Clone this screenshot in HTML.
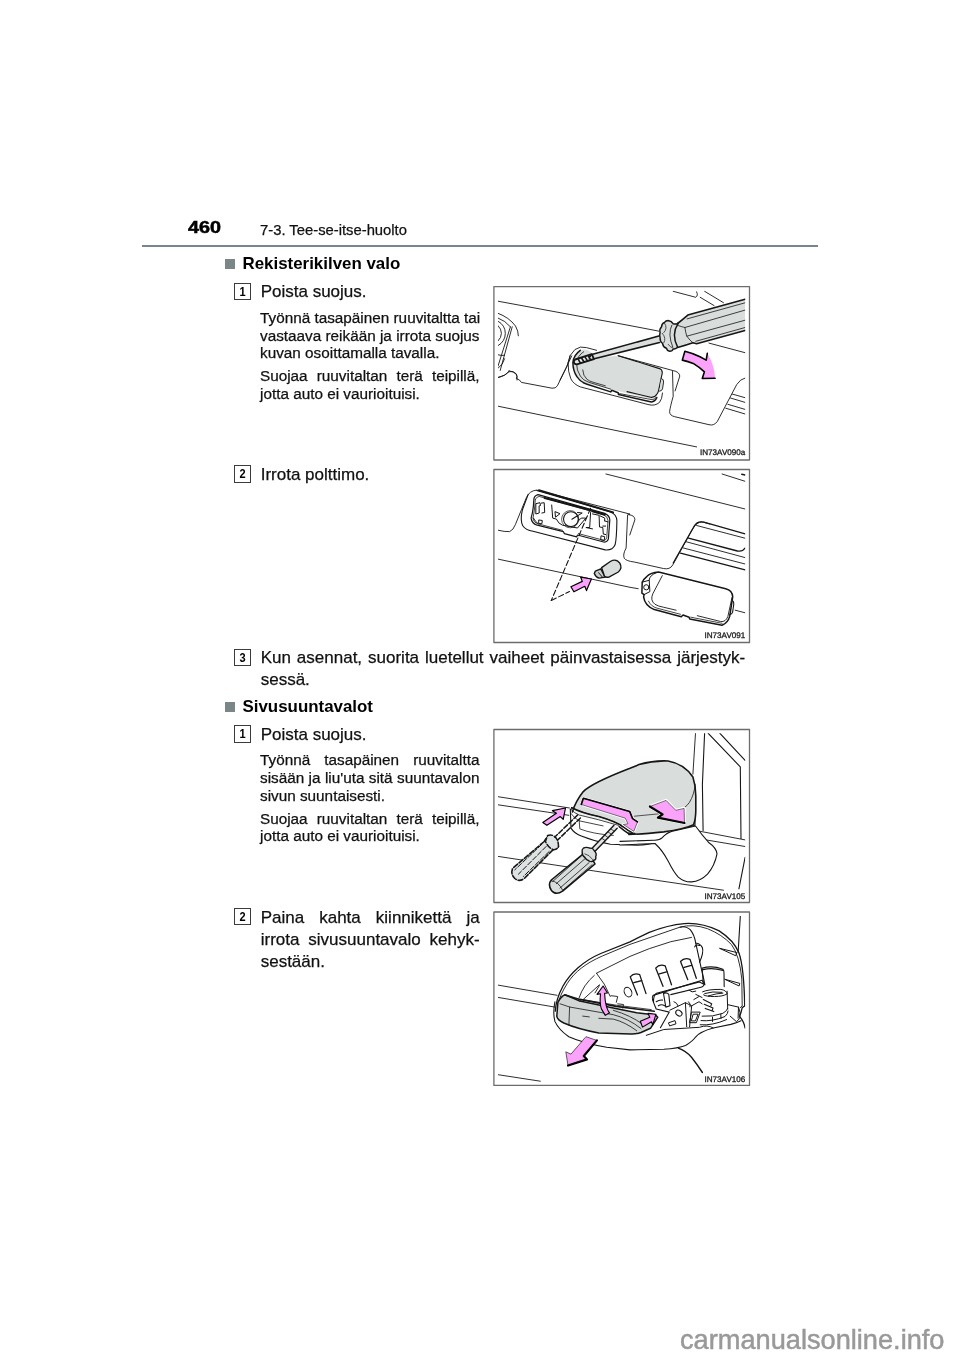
<!DOCTYPE html>
<html lang="fi">
<head>
<meta charset="utf-8">
<title>460 7-3. Tee-se-itse-huolto</title>
<style>
html,body{margin:0;padding:0;background:#fff;}
body{width:960px;height:1358px;position:relative;overflow:hidden;font-family:"Liberation Sans",sans-serif;color:#111;}
.abs{position:absolute;white-space:nowrap;line-height:1;}
.pg{left:187.5px;top:220.2px;font-size:16.8px;font-weight:bold;transform-origin:0 0;transform:scaleX(1.18);color:#000;-webkit-text-stroke:0.5px #000;}
.hd{left:260px;top:222.5px;font-size:14.8px;}
.rule{position:absolute;left:142px;top:244.5px;width:676px;height:2.3px;background:#77868a;}
.sq{position:absolute;width:10.4px;height:10.4px;background:#7b8787;}
.h2{font-size:16.9px;font-weight:bold;color:#000;}
.box{position:absolute;width:15px;height:15.2px;border:1.1px solid #3a3d3d;font-size:13px;font-weight:bold;text-align:center;line-height:15.8px;color:#000;}
.box span{display:inline-block;transform:scaleX(0.85);}
.st{font-size:17px;}
.st,.sm,.hd{-webkit-text-stroke:0.25px #111;}
.j{text-align:justify;text-align-last:justify;}
.sm{position:absolute;font-size:15.3px;line-height:17.8px;width:219.5px;white-space:nowrap;}
.sm p{margin:0 0 5px 0;}
.l{display:block;white-space:nowrap;}
.wm{left:680px;top:1326px;font-size:27.2px;color:#999;-webkit-text-stroke:0.5px #999;}
</style>
</head>
<body>
<div id="wrap" style="position:absolute;left:0;top:0;width:960px;height:1358px;will-change:transform;">
<div class="abs pg">460</div>
<div class="abs hd">7-3. Tee-se-itse-huolto</div>
<div class="rule"></div>

<div class="sq" style="left:224.8px;top:258.8px"></div>
<div class="abs h2" style="left:242.5px;top:256px">Rekisterikilven valo</div>

<div class="box" style="left:234px;top:282.8px"><span>1</span></div>
<div class="abs st" style="left:260.7px;top:283.1px">Poista suojus.</div>
<div class="sm" style="left:260px;top:308.8px">
<p><span class="l j">Työnnä tasapäinen ruuvitaltta tai</span><span class="l j">vastaava reikään ja irrota suojus</span><span class="l">kuvan osoittamalla tavalla.</span></p>
<p><span class="l j">Suojaa ruuvitaltan terä teipillä,</span><span class="l">jotta auto ei vaurioituisi.</span></p>
</div>

<div class="box" style="left:234px;top:465.4px"><span>2</span></div>
<div class="abs st" style="left:260.7px;top:465.6px">Irrota polttimo.</div>

<div class="box" style="left:234px;top:649.1px"><span>3</span></div>
<div class="st" style="position:absolute;left:260.7px;top:647px;width:484.5px;line-height:22px"><span class="l j">Kun asennat, suorita luetellut vaiheet päinvastaisessa järjestyk-</span><span class="l">sessä.</span></div>

<div class="sq" style="left:224.8px;top:701.5px"></div>
<div class="abs h2" style="left:242.5px;top:698.7px">Sivusuuntavalot</div>

<div class="box" style="left:234px;top:725.4px"><span>1</span></div>
<div class="abs st" style="left:260.7px;top:725.6px">Poista suojus.</div>
<div class="sm" style="left:260px;top:751.2px">
<p><span class="l j">Työnnä tasapäinen ruuvitaltta</span><span class="l j">sisään ja liu'uta sitä suuntavalon</span><span class="l">sivun suuntaisesti.</span></p>
<p><span class="l j">Suojaa ruuvitaltan terä teipillä,</span><span class="l">jotta auto ei vaurioituisi.</span></p>
</div>

<div class="box" style="left:234px;top:908.3px"><span>2</span></div>
<div class="st" style="position:absolute;left:260.7px;top:907px;width:219px;line-height:22.1px"><span class="l j">Paina kahta kiinnikettä ja</span><span class="l j">irrota sivusuuntavalo kehyk-</span><span class="l">sestään.</span></div>

<!--SVG-->
<svg width="960" height="1358" viewBox="0 0 960 1358" style="position:absolute;left:0;top:0" stroke-linecap="round" stroke-linejoin="round">
<rect x="493.9" y="286.6" width="255.6" height="173.4" fill="#fff" stroke="#6c6c6c" stroke-width="1.3"/>
<clipPath id="c1"><rect x="498" y="290.5" width="247.3" height="166"/></clipPath><g clip-path="url(#c1)">
<path d="M 498.0 301.2 L 630.0 325.6 L658.6 331.1" fill="none" stroke="#161616" stroke-width="0.9" />
<path d="M 709.0 343.1 L 745.1 352.7" fill="none" stroke="#161616" stroke-width="0.9" />
<path d="M 498.0 406.2 L 630.0 433.4 L 696.6 446.9" fill="none" stroke="#161616" stroke-width="0.9" />
<path d="M 673.2 291.3 L 695.8 297.3 Q 698.5 295.4 696.6 291.8" fill="none" stroke="#161616" stroke-width="0.9" />
<path d="M 700.2 297.3 L 714.1 305.6" fill="none" stroke="#161616" stroke-width="0.9" />
<path d="M 704.6 291.3 L 723.5 302.7" fill="none" stroke="#161616" stroke-width="0.9" />
<path d="M 498.0 313.3 Q 509.0 317.3 515.5 326.0 Q 518.4 331.1 518.4 335.8" fill="none" stroke="#161616" stroke-width="0.9" />
<path d="M 498.0 318.0 Q 505.3 320.6 510.4 326.8" fill="none" stroke="#161616" stroke-width="0.9" />
<path d="M 512.2 326.8 L 500.2 370.5" fill="none" stroke="#161616" stroke-width="0.9" />
<path d="M 510.4 326.8 L 498.0 366.1" fill="none" stroke="#161616" stroke-width="0.9" />
<path d="M 498.0 321.2 Q 505.3 325.3 505.3 333.3 Q 505.3 341.3 498.0 345.7" fill="none" stroke="#161616" stroke-width="0.9" />
<path d="M 498.0 325.6 Q 501.4 328.9 501.4 333.3 Q 501.4 337.7 498.0 341.0" fill="none" stroke="#161616" stroke-width="0.9" />
<path d="M 498.0 354.8 Q 501.7 355.9 504.6 355.3" fill="none" stroke="#161616" stroke-width="0.9" />
<path d="M 498.0 368.3 Q 503.1 364.7 504.6 358.8" fill="none" stroke="#161616" stroke-width="0.9" />
<path d="M 498.0 377.5 Q 506.0 375.6 509.0 371.7 Q 513.3 370.5 516.0 373.7 Q 517.7 376.3 517.1 380.0" fill="none" stroke="#161616" stroke-width="0.9" />
<path d="M 498.0 377.6 Q 506.0 375.8 509.0 371.2" fill="none" stroke="#161616" stroke-width="0.9" />
<path d="M 509.0 370.7 Q 514.1 371.8 516.5 374.4 Q 517.4 376.6 516.3 378.5 Q 519.9 379.5 521.4 382.4 L 552.0 388.2 Q 555.6 388.7 557.4 385.8 L 565.8 368.5 L 571.7 355.9" fill="none" stroke="#161616" stroke-width="0.9" />
<path d="M 596.6 350.3 L 586.4 347.6 Q 580.3 345.6 574.9 349.6 Q 568.8 355.1 568.1 362.5 Q 567.9 372.0 570.8 378.7 Q 573.5 384.2 580.3 386.9 L 648.0 404.5 Q 654.8 406.5 659.5 402.4 Q 662.2 399.1 662.5 393.0" fill="none" stroke="#161616" stroke-width="0.9" />
<path d="M 573.5 359.1 Q 574.2 354.4 580.3 350.3 Q 587.1 347.6 592.5 353.7 L 593.9 357.8 L 618.2 355.7 L 660.2 368.6 Q 662.9 369.9 662.5 373.3 L 658.8 390.9 Q 657.5 395.0 654.8 397.7 Q 652.8 399.7 649.4 398.4 L 587.1 383.5 Q 579.0 380.8 576.2 374.7 Q 572.9 367.9 573.5 359.1 Z" fill="#d9dddc" stroke="none" stroke-width="0" />
<path d="M 580.3 350.3 Q 573.5 355.1 572.9 362.5 Q 572.9 370.6 576.9 376.7 Q 580.3 382.1 587.1 384.2 L 610.8 391.9 L 611.7 390.3 L 618.2 392.7 L 618.5 394.6 L 651.4 402.0 Q 654.8 401.8 656.8 397.7" fill="none" stroke="#161616" stroke-width="1.5" />
<path d="M 583.7 351.7 Q 577.6 355.7 576.5 362.5 Q 576.5 370.6 580.3 376.0 Q 583.0 380.4 588.4 382.1 L 610.8 389.2" fill="none" stroke="#161616" stroke-width="0.8" />
<path d="M 582.7 369.9 Q 583.0 376.0 587.1 379.4 Q 589.1 381.2 593.9 382.5 L 605.4 385.8" fill="none" stroke="#161616" stroke-width="0.8" />
<path d="M 627.0 391.6 L 650.7 397.3 Q 654.8 397.7 656.8 394.3 Q 658.2 392.3 658.6 390.3 L 662.2 373.3 Q 662.6 369.9 659.5 368.6 L 618.2 355.7" fill="none" stroke="#161616" stroke-width="1.1" />
<path d="M 619.6 393.6 L 652.1 399.7 Q 654.8 399.7 656.4 397.0" fill="none" stroke="#161616" stroke-width="0.8" />
<path d="M 661.3 378.5 Q 664.0 379.0 663.6 382.1 L 662.5 388.9 Q 661.8 391.2 659.5 391.2" fill="#d9dddc" stroke="#161616" stroke-width="0.9" />
<path d="M 618.2 355.7 L 673.1 370.6 Q 679.2 371.7 679.8 376.0 L 675.1 390.9" fill="none" stroke="#161616" stroke-width="0.9" />
<path d="M 672.5 371.5 L 673.2 396.3 Q 670.3 406.5 669.6 411.6 Q 669.6 415.5 674.7 416.7 L 709.0 424.7 Q 714.1 426.1 717.4 421.3 L 736.7 384.6 Q 740.3 379.0 745.1 378.0" fill="none" stroke="#161616" stroke-width="0.9" />
<path d="M 732.3 394.1 L 745.1 397.7" fill="none" stroke="#161616" stroke-width="0.9" />
<path d="M 730.5 398.0 L 745.1 402.4" fill="none" stroke="#161616" stroke-width="0.9" />
<path d="M 727.9 404.3 L 745.1 409.4" fill="none" stroke="#161616" stroke-width="0.9" />
<path d="M 725.7 408.2 L 745.1 414.0" fill="none" stroke="#161616" stroke-width="0.9" />
<path d="M 560.0 380.1 L 566.8 366.6 Q 569.5 359.1 570.2 355.7" fill="none" stroke="#161616" stroke-width="0.9" />
<path d="M 592.5 354.4 L 658.8 336.1 L 659.5 342.5 L 593.9 358.7 Z" fill="#d9dddc" stroke="none" stroke-width="0" />
<path d="M 591.8 354.4 L 658.8 336.1" fill="none" stroke="#161616" stroke-width="1.6" />
<path d="M 593.2 359.0 L 659.5 342.5" fill="none" stroke="#161616" stroke-width="1.6" />
<path d="M 575.2 359.5 L 591.8 354.1 L 593.9 359.0 L 576.9 364.4 Q 573.8 364.1 573.8 362.0 Q 573.9 360.3 575.2 359.5 Z" fill="#e6e8e8" stroke="#161616" stroke-width="1.9" />
<path d="M 578.3 359.4 L 580.3 362.9 M 581.7 358.2 L 584.1 362.0 M 585.1 357.1 L 587.5 360.9 M 588.4 356.0 L 590.6 359.8 M 590.9 355.2 L 589.1 357.8" fill="none" stroke="#161616" stroke-width="1.6" />
<path d="M 671.0 324.6 L 678.3 323.1 Q 682.7 319.5 687.8 315.1 L 745.1 299.3 L 745.1 330.4 L 695.8 343.5 L 692.9 343.1 Q 684.2 345.7 677.6 347.2 L 671.0 347.2 Z" fill="#d9dddc" stroke="none" stroke-width="0" />
<path d="M 677.6 323.5 Q 682.7 319.5 687.8 315.1 L 745.1 299.3" fill="none" stroke="#161616" stroke-width="1.6" />
<path d="M 677.6 347.5 Q 685.6 345.4 692.9 342.8 L 696.6 343.7 L 745.1 330.4" fill="none" stroke="#161616" stroke-width="1.6" />
<path d="M 687.1 318.9 L 745.1 302.8" fill="none" stroke="#161616" stroke-width="0.8" />
<path d="M 678.3 325.6 Q 682.0 326.8 684.9 327.5 L 745.1 310.1" fill="none" stroke="#161616" stroke-width="0.8" />
<path d="M 684.9 327.5 Q 685.6 332.6 686.8 336.2 L 745.1 320.2" fill="none" stroke="#161616" stroke-width="0.8" />
<path d="M 686.8 336.2 Q 690.0 340.6 692.9 342.8" fill="none" stroke="#161616" stroke-width="0.8" />
<path d="M 695.8 341.3 L 745.1 327.5" fill="none" stroke="#161616" stroke-width="0.8" />
<path d="M 668.1 320.6 Q 671.8 321.2 673.2 323.8 Q 676.1 324.6 678.3 323.1 Q 671.0 334.0 677.6 347.2 Q 676.1 349.4 673.2 348.9 Q 672.5 351.3 669.6 351.3 Q 667.0 350.8 666.4 348.3 Q 663.0 347.2 662.6 343.5 Q 659.7 341.3 660.1 338.1 Q 659.1 335.5 660.1 332.6 Q 659.1 329.4 661.6 326.8 Q 661.6 323.5 664.5 322.4 Q 665.9 320.6 668.1 320.6 Z" fill="#d9dddc" stroke="#161616" stroke-width="1.5" />
<path d="M 671.8 325.3 Q 667.4 334.0 672.8 347.2" fill="none" stroke="#161616" stroke-width="0.8" />
<path d="M 664.5 323.1 Q 668.1 328.2 663.8 332.6 M 662.3 333.3 Q 666.7 338.4 663.8 342.8 M 668.1 344.3 Q 670.3 347.2 672.5 347.9" fill="none" stroke="#161616" stroke-width="0.7" />
<path d="M 684.9 351.2 Q 693.2 353.3 700.0 356.7 L 706.2 360.1 L 707.3 353.3 Q 711.5 359.8 713.5 367.6 Q 714.8 373.3 715.1 378.3 L 702.3 378.5 L 704.4 371.8 Q 700.0 367.6 693.2 363.4 Q 688.0 361.4 682.3 360.1 Z" fill="#fba3fb" stroke="none" stroke-width="0" />
<path d="M 707.3 353.3 L 706.2 360.1 L 700.0 356.7 Q 693.2 353.3 684.9 351.2 L 682.3 360.1 Q 688.0 361.4 693.2 363.4 Q 700.0 367.6 704.4 371.8 L 702.3 378.5 L 715.1 378.3" fill="none" stroke="#000" stroke-width="1.6" />
</g>
<text x="745.3" y="455.3" text-anchor="end" font-family="Liberation Sans, sans-serif" font-size="8.1" fill="#1a1a1a" stroke="#1a1a1a" stroke-width="0.3" style="-webkit-font-smoothing:antialiased;text-rendering:geometricPrecision">IN73AV090a</text>
<rect x="493.9" y="469.5" width="255.6" height="173.0" fill="#fff" stroke="#6c6c6c" stroke-width="1.3"/>
<clipPath id="c2"><rect x="498" y="473" width="247.3" height="166"/></clipPath><g clip-path="url(#c2)">
<path d="M 605.9 474.0 L 745.1 509.0" fill="none" stroke="#161616" stroke-width="0.9" />
<path d="M 722.1 474.0 L 745.1 481.3" fill="none" stroke="#161616" stroke-width="0.9" />
<path d="M 741.8 474.3 L 745.1 474.9" fill="none" stroke="#161616" stroke-width="1.5" />
<path d="M 498.0 559.1 L 630.0 587.3 L 638.2 588.7" fill="none" stroke="#161616" stroke-width="0.9" />
<path d="M 735.2 610.2 L 745.1 612.8" fill="none" stroke="#161616" stroke-width="0.9" />
<path d="M 498.0 530.2 Q 504.6 531.9 509.7 531.6 Q 513.3 530.2 515.5 524.3 L 521.4 509.8 L 526.5 497.4 Q 529.4 490.8 536.7 490.1 L 630.0 514.1 L 628.3 514.6 Q 634.9 515.3 634.9 519.7 L 629.8 535.0" fill="none" stroke="#161616" stroke-width="0.9" />
<path d="M 627.6 514.9 L 626.1 548.1 Q 622.5 554.7 624.3 558.3 Q 626.1 561.0 634.2 562.0 L 663.3 568.5 Q 669.9 570.0 672.8 564.9 L 692.5 529.2 Q 696.9 521.9 702.0 521.9 L 710.0 524.1" fill="none" stroke="#161616" stroke-width="0.9" />
<path d="M 528.2 494.4 L 522.4 509.8 Q 519.9 520.0 522.8 525.8 Q 525.7 530.2 533.0 531.2 L 605.2 549.9 Q 612.5 550.6 615.1 544.8 Q 616.6 538.9 616.9 520.7 Q 616.6 514.1 610.3 511.9 L 536.7 490.5" fill="none" stroke="#161616" stroke-width="1.1" />
<path d="M 538.9 490.1 L 613.2 512.4" fill="none" stroke="#161616" stroke-width="1.8" />
<path d="M 533.9 498.9 Q 534.4 495.6 538.1 494.7 L 604.7 513.4 Q 609.8 515.8 609.8 520.0 L 608.4 538.7 Q 607.5 542.5 603.7 542.0 L 577.5 535.0 L 576.6 536.9 L 564.4 533.6 L 563.4 531.7 L 537.2 525.2 Q 531.6 523.3 531.1 518.1 Q 533.0 511.6 533.4 505.9 Z" fill="none" stroke="#161616" stroke-width="1.2" />
<path d="M 535.3 499.4 Q 536.2 497.0 539.1 496.4 L 603.3 514.6 Q 608.0 516.7 608.0 520.5 L 606.7 537.8 Q 606.1 540.6 603.3 540.2 L 578.4 533.6 M 562.5 530.3 L 538.1 523.9 Q 533.4 522.3 533.0 518.1 Q 534.4 511.6 534.8 505.9 L 535.3 499.4" fill="none" stroke="#161616" stroke-width="0.8" />
<path d="M 544.7 498.0 L 590.6 510.2 M 592.5 511.1 L 604.7 514.6" fill="none" stroke="#161616" stroke-width="2.2" />
<path d="M 536.2 503.6 L 540.0 502.7 L 540.5 505.5 L 539.1 505.9 L 539.2 513.0 L 536.2 513.9 Z M 541.4 503.1 L 544.2 502.7 L 544.7 512.5 L 541.9 513.0 M 539.1 520.0 L 542.3 520.5 L 541.9 523.7 L 539.1 523.6 Z M 533.4 518.1 Q 535.3 521.9 538.1 523.7" fill="none" stroke="#161616" stroke-width="1" />
<path d="M 551.7 505.0 L 552.7 518.1 L 556.4 519.1 Q 558.3 523.7 562.5 525.2 L 577.5 528.0 L 585.9 518.1 L 581.2 518.1 L 578.4 520.9" fill="none" stroke="#161616" stroke-width="1" />
<path d="M 555.0 512.0 L 555.5 517.2 L 559.7 513.9 Z M 571.9 519.1 L 582.2 513.0 L 577.5 512.5" fill="none" stroke="#161616" stroke-width="1" />
<circle cx="570.9" cy="519.1" r="7.4" fill="#fff" stroke="#161616" stroke-width="1.1"/>
<circle cx="570.2" cy="519.2" r="8.6" fill="none" stroke="#161616" stroke-width="0.7"/>
<path d="M 571.9 519.2 L 577.5 515.8" fill="none" stroke="#161616" stroke-width="1.1" />
<path d="M 590.6 512.5 L 589.7 527.5 L 585.9 527.5 L 592.5 528.9 M 592.5 513.9 L 599.1 515.3 L 599.5 527.0 L 602.8 527.5 L 603.3 534.1 L 605.6 534.5 M 604.7 520.9 L 608.0 521.9 M 605.6 526.1 L 602.8 526.1 M 601.4 535.9 L 604.7 536.7 L 604.2 540.6 L 601.1 539.9 Z M 600.0 515.8 L 604.7 518.1 L 604.7 520.9" fill="none" stroke="#161616" stroke-width="1" />
<path d="M 590.6 508.3 L 551.3 600.4" fill="none" stroke="#161616" stroke-width="1.1" stroke-dasharray="5.5 2.6"/>
<path d="M 551.3 600.4 L 569.5 591.6" fill="none" stroke="#161616" stroke-width="1.1" stroke-dasharray="5.5 2.6"/>
<path d="M 591.4 579.0 L 580.7 577.2 L 582.3 581.4 L 570.9 586.8 L 573.9 591.8 L 584.8 586.3 L 586.5 590.6 Z" fill="#fba3fb" stroke="#000" stroke-width="1.2" />
<path d="M 595.3 571.2 L 600.8 568.8 L 605.2 577.1 L 599.1 578.1 Q 595.7 577.1 594.3 573.4 Z" fill="#c9cdcc" stroke="#161616" stroke-width="1.4" />
<path d="M 598.6 572.7 L 603.0 577.8" fill="none" stroke="#161616" stroke-width="1" />
<path d="M 601.6 567.6 L 610.3 561.5 Q 616.1 558.1 619.8 563.2 Q 622.7 568.3 618.3 572.0 L 608.9 577.1 Q 605.9 577.8 604.5 576.3 Z" fill="#d9dddc" stroke="#161616" stroke-width="1.4" />
<path d="M 673.2 563.0 L 694.4 525.8 Q 697.3 520.7 703.9 522.1 L 745.1 533.8" fill="none" stroke="#161616" stroke-width="1.3" />
<path d="M 696.6 525.5 L 745.1 538.2" fill="none" stroke="#161616" stroke-width="0.9" />
<path d="M 688.5 538.2 L 737.4 551.0 Q 742.5 552.0 745.1 548.0" fill="none" stroke="#161616" stroke-width="1.3" />
<path d="M 686.4 541.8 L 745.1 557.6" fill="none" stroke="#161616" stroke-width="0.9" />
<path d="M 683.4 548.0 L 745.1 564.0" fill="none" stroke="#161616" stroke-width="0.9" />
<path d="M 680.5 553.2 L 745.1 569.8" fill="none" stroke="#161616" stroke-width="1.3" />
<path d="M 647.0 576.3 Q 650.6 572.7 658.6 572.0 L 725.7 588.7 Q 732.3 590.2 732.7 596.8 L 729.7 616.4 Q 727.9 623.0 722.1 625.2 L 689.7 618.9 L 689.1 617.2 L 683.0 615.0 L 681.3 616.7 L 654.3 609.6 Q 644.8 605.5 643.6 596.8 L 644.1 594.6 L 641.9 593.1 L 642.2 582.2 Q 643.3 579.3 647.0 576.3 Z" fill="#fff" stroke="#161616" stroke-width="1.5" />
<path d="M 656.5 572.7 Q 649.9 574.9 649.2 580.0 L 649.9 591.6 L 644.1 594.6" fill="none" stroke="#161616" stroke-width="1" />
<path d="M 642.2 582.2 L 648.7 580.4" fill="none" stroke="#161616" stroke-width="1" />
<circle cx="646.3" cy="587.3" r="2.6" fill="#fff" stroke="#161616" stroke-width="1"/>
<path d="M 662.3 575.6 L 652.8 593.8 Q 649.9 600.4 655.0 604.3 Q 657.9 606.2 663.8 607.3 L 676.1 610.2" fill="none" stroke="#161616" stroke-width="0.9" />
<path d="M 697.3 615.7 L 720.6 621.5 Q 725.7 622.3 727.9 616.4 L 732.0 597.5" fill="none" stroke="#161616" stroke-width="0.9" />
<path d="M 648.4 601.1 Q 651.4 607.0 657.9 608.4 L 680.5 614.3 M 690.7 617.2 L 722.1 623.3" fill="none" stroke="#161616" stroke-width="0.8" />
<path d="M 732.3 600.4 Q 734.0 601.9 733.8 604.0 L 732.6 612.1 Q 732.0 614.3 729.7 614.5" fill="none" stroke="#161616" stroke-width="1.1" />
</g>
<text x="745.3" y="638.0" text-anchor="end" font-family="Liberation Sans, sans-serif" font-size="8.1" fill="#1a1a1a" stroke="#1a1a1a" stroke-width="0.3" style="-webkit-font-smoothing:antialiased;text-rendering:geometricPrecision">IN73AV091</text>
<rect x="493.9" y="729.5" width="255.6" height="173.0" fill="#fff" stroke="#6c6c6c" stroke-width="1.3"/>
<clipPath id="c3"><rect x="498" y="733.2" width="247.3" height="166"/></clipPath><g clip-path="url(#c3)">
<path d="M 498.0 796.7 L 569.5 808.0" fill="none" stroke="#161616" stroke-width="0.9" />
<path d="M 498.0 804.8 L 568.8 815.3" fill="none" stroke="#161616" stroke-width="0.9" />
<path d="M 498.0 856.4 L 630.0 876.4 L 723.5 890.2" fill="none" stroke="#161616" stroke-width="0.9" />
<path d="M 695.5 733.3 L 692.9 774.1" fill="none" stroke="#161616" stroke-width="0.9" />
<path d="M 704.6 733.3 L 702.4 784.3 L 703.1 830.4" fill="none" stroke="#161616" stroke-width="1.1" />
<path d="M 708.2 733.3 L 740.3 766.8 L 741.0 838.4" fill="none" stroke="#161616" stroke-width="1.1" />
<path d="M 719.9 733.3 L 745.1 760.3" fill="none" stroke="#161616" stroke-width="1.1" />
<path d="M 698.0 830.9 L 745.1 839.9" fill="none" stroke="#161616" stroke-width="0.9" />
<path d="M 706.0 839.9 L 745.1 846.5" fill="none" stroke="#161616" stroke-width="0.9" />
<path d="M 745.1 857.4 L 738.9 888.8" fill="none" stroke="#161616" stroke-width="1.1" />
<path d="M 570.3 809.2 L 571.0 828.1 Q 574.0 833.2 581.3 836.1 Q 595.8 842.0 610.4 844.2 L 636.7 845.2 Q 649.8 844.9 657.1 842.0 Q 663.6 838.3 667.3 833.2 L 695.0 825.2 L 695.0 809.2 Z" fill="#fff" stroke="#161616" stroke-width="1.1" />
<path d="M 579.1 819.4 L 579.8 828.9 Q 592.9 834.0 613.3 835.4" fill="none" stroke="#161616" stroke-width="0.8" />
<path d="M 571.0 813.5 Q 574.0 817.9 579.1 820.8 L 603.1 825.9" fill="none" stroke="#161616" stroke-width="0.8" />
<path d="M 620.0 845.0 L 655.0 843.5 Q 662.3 850.1 668.1 861.0 Q 674.0 872.7 678.3 877.1 Q 684.2 882.2 691.5 881.9 Q 700.2 881.5 707.5 874.2 Q 714.8 865.4 717.0 853.8 Q 716.3 847.9 709.0 842.8 Q 701.7 834.8 695.5 826.0 L 672.5 831.1 Q 665.2 834.1 662.3 837.7 Q 659.4 840.6 653.5 840.2 L 620.0 841.4" fill="#fff" stroke="#161616" stroke-width="1.1" />
<path d="M 572.4 812.0 Q 575.3 801.8 583.3 791.6 Q 592.1 782.9 630.0 768.3 L 639.0 764.6 Q 653.5 760.3 668.1 761.0 Q 684.2 763.9 692.9 777.0 Q 695.8 785.8 695.8 796.0 L 695.8 810.0 Q 695.8 818.8 693.6 824.6 Q 684.2 829.0 663.8 831.9 Q 641.9 834.1 628.8 834.5 L 634.5 833.4 Q 627.9 831.0 623.5 827.0 Q 616.3 821.6 598.8 816.5 Q 581.3 812.8 571.8 807.7 Z" fill="#d9dddc" stroke="none" stroke-width="0" />
<path d="M 571.8 807.7 Q 581.3 812.8 598.8 816.5 Q 616.3 821.6 623.5 827.0 Q 627.9 831.0 634.5 833.4 L 627.2 832.8 Q 623.5 829.6 617.7 825.2 Q 598.8 819.4 579.1 815.0 Q 574.0 812.8 571.3 809.9 Z" fill="#eef0f0" stroke="#161616" stroke-width="0.8" />
<path d="M 572.4 812.0 Q 575.3 801.8 583.3 791.6 Q 592.1 782.9 630.0 768.3 L 639.0 764.6 Q 653.5 760.3 668.1 761.0 Q 684.2 763.9 692.9 777.0 Q 695.8 785.8 695.8 796.0 L 695.8 810.0 Q 695.8 818.8 693.6 824.6 Q 684.2 829.0 663.8 831.9 Q 641.9 834.1 628.8 834.5 L 634.5 833.4 Q 627.9 831.0 623.5 827.0 Q 616.3 821.6 598.8 816.5 Q 581.3 812.8 571.8 807.7" fill="none" stroke="#161616" stroke-width="1.6" />
<path d="M 634.5 833.4 L 627.9 833.2 Q 623.5 830.3 619.2 826.7" fill="none" stroke="#161616" stroke-width="1.4" />
<path d="M 634.5 816.2 L 659.3 813.8" fill="none" stroke="#161616" stroke-width="0.7" />
<path d="M 695.1 784.3 Q 694.4 794.5 689.3 802.6 Q 687.1 805.9 684.2 807.7" fill="none" stroke="#161616" stroke-width="0.8" />
<path d="M 544.3 841.4 Q 546.1 837.7 549.1 836.3 Q 555.6 839.2 558.5 846.5 Q 556.4 849.4 552.7 850.1 L 524.3 878.5 Q 519.2 882.2 514.8 878.5 Q 510.4 874.2 512.6 868.3 Z" fill="#dfe2e2" stroke="#161616" stroke-width="1.6" stroke-dasharray="5 2"/>
<path d="M 546.1 846.5 L 518.4 874.2 M 549.1 851.6 L 523.5 876.4 M 541.8 844.3 L 514.8 869.8" fill="none" stroke="#161616" stroke-width="1.0" stroke-dasharray="5 2"/>
<path d="M 547.6 835.5 Q 551.3 834.1 554.2 836.3 Q 558.5 839.2 558.5 846.5 Q 557.1 849.4 553.4 849.7 Q 548.3 847.9 545.4 841.4 Z" fill="#dfe2e2" stroke="#161616" stroke-width="1.5" stroke-dasharray="5 2"/>
<path d="M 577.5 815.1 L 554.9 837.0 M 580.4 818.0 L 557.8 839.9" fill="none" stroke="#161616" stroke-width="1.5" stroke-dasharray="5 2"/>
<path d="M 614.0 825.3 L 592.1 848.2 L 595.0 851.1 L 617.2 828.2 Z" fill="#e4e6e6" stroke="none" stroke-width="0" />
<path d="M 614.0 825.3 L 592.1 848.2 M 617.2 828.2 L 595.3 851.1" fill="none" stroke="#161616" stroke-width="1.4" />
<path d="M 605.2 835.5 L 608.4 837.7 M 602.3 838.6 L 605.5 840.8 M 608.4 832.2 L 611.6 834.4 M 611.0 829.0 L 614.3 831.3" fill="none" stroke="#161616" stroke-width="0.8" />
<path d="M 583.3 853.8 Q 592.1 856.7 595.0 864.0 L 562.9 890.9 Q 555.6 896.0 551.3 890.2 Q 547.6 884.4 551.3 880.0 Z" fill="#d9dddc" stroke="#161616" stroke-width="1.6" />
<path d="M 584.8 858.9 L 556.4 883.6 M 589.2 862.5 L 560.0 888.0 M 580.4 856.7 L 552.7 881.5 M 592.1 864.7 L 562.9 890.2" fill="none" stroke="#161616" stroke-width="0.8" />
<path d="M 551.3 880.7 Q 558.5 881.5 562.9 890.5" fill="none" stroke="#161616" stroke-width="0.8" />
<path d="M 583.3 848.2 Q 586.3 846.5 589.9 848.2 Q 592.8 847.6 594.3 850.8 Q 597.2 853.8 595.7 856.7 Q 596.5 859.6 593.8 860.3 Q 592.1 862.5 589.2 861.0 Q 586.3 860.3 584.8 857.4 Q 581.9 855.2 582.2 852.3 Q 581.6 849.4 583.3 848.2 Z" fill="#d9dddc" stroke="#161616" stroke-width="1.4" />
<path d="M 584.8 853.8 Q 589.2 854.5 592.8 859.6" fill="none" stroke="#161616" stroke-width="0.7" />
<path d="M 565.5 808.0 L 552.4 810.7 L 556.4 813.2 L 542.8 822.4 L 546.9 825.3 L 560.3 816.6 L 563.2 819.3 Z" fill="#fba3fb" stroke="#000" stroke-width="1.2" />
<path d="M 583.4 798.2 L 629.7 811.4 L 632.6 818.6 L 637.5 821.9 L 633.8 831.3 L 623.3 824.5 L 627.9 823.8 L 625.3 818.2 L 581.3 804.5 Z" fill="#fff" stroke="#fff" stroke-width="2.6" />
<path d="M 583.4 798.2 L 629.7 811.4 L 632.6 818.6 L 637.5 821.9 L 633.8 831.3 L 623.3 824.5 L 627.9 823.8 L 625.3 818.2 L 581.3 804.5 Z" fill="#fba3fb" stroke="#222" stroke-width="0.6" />
<path d="M 637.5 821.9 L 632.6 818.6 L 629.7 811.4 L 583.4 798.2 L 581.3 804.5" fill="none" stroke="#000" stroke-width="1.6" />
<path d="M 649.8 806.5 L 666.1 800.4 L 675.8 810.3 L 684.1 808.4 L 684.5 823.0 L 657.8 817.6 L 662.6 814.4 Z" fill="#fff" stroke="#fff" stroke-width="3.2" />
<path d="M 649.8 806.5 L 666.1 800.4 L 675.8 810.3 L 684.1 808.4 L 684.5 823.0 L 657.8 817.6 L 662.6 814.4 Z" fill="#fba3fb" stroke="#222" stroke-width="0.6" />
<path d="M 684.5 823.0 L 657.8 817.6 L 662.6 814.4 L 649.8 806.5" fill="none" stroke="#000" stroke-width="2.2" />
</g>
<text x="745.3" y="898.6" text-anchor="end" font-family="Liberation Sans, sans-serif" font-size="8.1" fill="#1a1a1a" stroke="#1a1a1a" stroke-width="0.3" style="-webkit-font-smoothing:antialiased;text-rendering:geometricPrecision">IN73AV105</text>
<rect x="493.9" y="912.0" width="255.6" height="173.4" fill="#fff" stroke="#6c6c6c" stroke-width="1.3"/>
<clipPath id="c4"><rect x="498" y="916" width="247.3" height="166"/></clipPath><g clip-path="url(#c4)">
<path d="M 498.0 985.1 L 557.1 995.3" fill="none" stroke="#161616" stroke-width="0.9" />
<path d="M 498.0 997.4 L 554.9 1007.1" fill="none" stroke="#161616" stroke-width="0.9" />
<path d="M 498.0 1074.7 L 540.3 1081.2" fill="none" stroke="#161616" stroke-width="0.9" />
<path d="M 740.3 916.3 L 738.1 952.8" fill="none" stroke="#161616" stroke-width="1.1" />
<path d="M 555.3 1011.1 Q 555.9 999.4 562.9 986.3 C 569.5 973.9 583.3 960.8 600.8 953.5 L 630.0 941.8 L 649.2 932.3 Q 668.1 925.0 684.2 923.6 Q 701.7 922.4 719.2 930.9 Q 733.8 940.4 738.9 952.8 Q 744.0 967.3 744.7 1006.0 L 742.2 1007.6 Q 741.0 1013.4 739.6 1016.3 Q 744.0 1021.4 745.1 1028.0" fill="none" stroke="#161616" stroke-width="1.3" />
<path d="M 558.5 1002.3 Q 560.0 995.0 567.3 983.4 C 574.6 971.7 586.3 963.0 602.3 956.0 L 630.0 944.4 L 679.8 927.2 Q 692.9 923.6 707.5 928.7 Q 722.1 934.5 731.6 944.7 Q 739.6 955.7 741.8 979.0 L 742.2 1006.0 L 740.3 1007.6" fill="none" stroke="#161616" stroke-width="0.9" />
<path d="M 679.8 927.2 Q 685.6 925.8 690.0 929.4 Q 694.4 934.5 695.8 943.3 L 701.7 970.3 Q 703.9 979.0 704.9 984.8 L 699.5 981.9 L 656.5 993.3 Q 653.3 995.0 653.5 1002.3" fill="none" stroke="#161616" stroke-width="1.1" />
<path d="M 596.5 973.2 L 630.0 956.4 L 649.2 948.7 Q 671.0 940.4 691.5 937.4" fill="none" stroke="#161616" stroke-width="0.9" />
<path d="M 695.8 943.3 Q 699.5 942.8 702.4 947.6 Q 703.9 952.8 699.5 962.2 M 694.7 946.9 Q 695.8 944.0 699.5 945.5" fill="none" stroke="#161616" stroke-width="1.1" />
<path d="M 596.5 973.2 Q 605.2 983.4 610.3 996.5 M 594.3 975.4 Q 583.3 984.8 579.0 998.0 M 599.4 984.8 L 583.3 999.4 M 599.4 985.6 L 595.0 992.9" fill="none" stroke="#161616" stroke-width="0.9" />
<path d="M 630.2 976.8 Q 633.9 972.4 639.7 974.6 L 646.0 993.6 M 630.5 977.5 L 637.5 995.0 M 633.9 982.6 L 641.9 980.5" fill="none" stroke="#161616" stroke-width="1.3" />
<path d="M 655.7 968.1 Q 659.4 963.7 665.2 965.9 L 671.5 984.8 M 656.0 968.8 L 663.0 986.3 M 659.4 973.9 L 667.4 971.7" fill="none" stroke="#161616" stroke-width="1.3" />
<path d="M 680.5 961.5 Q 684.2 957.1 690.0 959.3 L 696.3 978.3 M 680.8 962.2 L 687.8 979.7 M 684.2 967.3 L 692.2 965.1" fill="none" stroke="#161616" stroke-width="1.3" />
<ellipse cx="628.0" cy="992.1" rx="3.6" ry="5" fill="#fff" stroke="#161616" stroke-width="1" transform="rotate(-25 628.0 992.1)"/>
<path d="M 702.1 968.1 Q 712.5 965.2 722.9 969.2 Q 724.2 970.4 724.0 973.5 L 724.2 986.6 M 703.1 969.6 Q 712.5 967.3 722.9 970.6 M 702.1 968.1 L 703.3 983.4" fill="none" stroke="#161616" stroke-width="1.1" />
<path d="M 702.6 991.8 Q 708.3 989.2 720.8 989.4 Q 726.6 990.4 727.1 993.9 Q 722.9 996.5 714.6 996.5 Q 706.2 996.7 703.6 994.9 M 704.7 993.5 Q 712.5 991.0 721.9 992.3 M 708.3 995.9 Q 716.7 993.3 722.9 993.1" fill="none" stroke="#161616" stroke-width="1" />
<path d="M 727.1 991.2 L 727.7 1009.0 M 702.1 1016.2 Q 712.5 1017.1 722.9 1013.3 Q 727.6 1010.5 727.7 1008.4 M 701.0 1020.6 Q 712.5 1021.7 725.0 1016.5 Q 728.1 1013.6 728.1 1011.0 M 700.2 1024.8 Q 712.5 1025.8 726.6 1019.6 M 712.5 1017.1 L 712.5 1021.5 M 720.8 1014.2 L 721.0 1018.5" fill="none" stroke="#161616" stroke-width="1" />
<path d="M 725.0 979.3 L 739.8 983.4 L 739.2 985.6 Z" fill="none" stroke="#161616" stroke-width="1" />
<path d="M 728.3 1004.8 L 738.5 1007.1 Q 740.8 1012.1 739.8 1018.3 L 736.5 1021.7 L 730.2 1016.2 M 738.5 1007.1 L 738.1 1018.3" fill="none" stroke="#161616" stroke-width="1" />
<path d="M 703.3 999.6 L 711.7 1003.8 L 710.9 1005.8 M 704.2 1004.3 L 713.0 1008.1 L 712.3 1010.0 M 705.2 1008.4 L 713.8 1011.6" fill="none" stroke="#161616" stroke-width="1.1" />
<path d="M 653.1 995.4 L 702.1 980.3 L 704.4 984.2 Q 703.1 986.9 701.0 987.3 L 670.8 994.6 M 653.1 995.4 Q 651.6 997.5 652.6 1000.1 L 656.2 1009.0 L 669.3 1012.1 L 660.4 1027.7 M 663.5 993.5 Q 666.7 991.8 668.8 994.4 L 670.0 1005.8 L 665.8 1007.1 Z M 656.2 1001.7 Q 659.4 999.6 662.5 1000.1 M 658.3 1005.8 Q 661.5 1003.8 664.6 1005.8" fill="none" stroke="#161616" stroke-width="1.1" />
<path d="M 669.8 1010.2 L 685.4 1002.7 L 686.7 1026.7 M 685.4 1002.7 L 691.7 1005.8 L 699.0 1001.7 L 702.1 1003.8 M 691.7 1005.8 L 689.6 1026.7 M 691.9 1012.1 L 700.2 1012.1 L 696.4 1022.7 L 689.8 1022.7 Z M 693.5 1014.2 L 698.1 1014.2 L 695.4 1020.9 L 691.7 1020.9 Z M 668.8 1022.7 L 675.0 1020.6 L 676.0 1023.8 L 670.0 1025.8 Z M 674.0 1001.7 Q 677.1 1002.7 678.1 1005.8 M 688.5 1001.7 Q 691.1 1003.8 690.1 1006.9 M 689.1 990.2 Q 691.7 993.3 695.8 991.2 M 695.8 994.4 L 702.1 997.5 M 693.8 999.6 L 699.0 996.5" fill="none" stroke="#161616" stroke-width="1" />
<ellipse cx="678.9" cy="1013.1" rx="3.4" ry="2.6" fill="#fff" stroke="#161616" stroke-width="1" transform="rotate(35 678.9 1013.1)"/>
<path d="M 719.9 948.4 L 736.7 952.5 L 735.9 955.4 Z" fill="none" stroke="#161616" stroke-width="1" />
<path d="M 554.9 1001.8 Q 552.7 1013.4 554.9 1021.4 Q 558.5 1029.5 568.8 1036.8 Q 583.3 1043.3 606.7 1047.3 L 630.0 1049.9 L 663.8 1049.3 Q 678.3 1048.4 685.6 1045.5 Q 692.9 1041.1 695.8 1036.8 Q 700.2 1031.6 713.3 1028.0 L 730.8 1024.4 Q 738.1 1022.2 741.0 1020.7" fill="none" stroke="#161616" stroke-width="1.1" />
<path d="M 678.3 1048.1 Q 685.6 1050.6 691.5 1057.2 Q 697.3 1064.5 702.4 1072.5" fill="none" stroke="#161616" stroke-width="1.4" />
<path d="M 646.3 1035.3 L 663.8 1029.5 L 699.5 1027.3 Q 707.5 1024.4 713.3 1028.0" fill="none" stroke="#161616" stroke-width="1" />
<path d="M 557.9 1002.3 Q 560.8 996.5 564.9 994.7 L 571.0 997.2 L 579.8 1001.1 L 613.3 1008.1 L 636.7 1012.8 L 655.6 1015.1 L 657.8 1017.2 L 650.5 1028.3 L 641.0 1032.5 Q 636.7 1034.1 630.8 1033.9 L 598.8 1032.9 Q 578.3 1029.3 563.8 1023.0 Q 557.2 1019.8 556.8 1016.1 Z" fill="#d2d6d5" stroke="#161616" stroke-width="1.5" />
<path d="M 569.6 1007.0 L 568.9 1025.3 M 560.1 1003.8 L 569.6 1007.0 L 613.3 1014.7 Q 627.9 1018.3 641.0 1028.5 M 582.7 1016.1 L 589.3 1016.9 M 598.8 1018.3 L 613.3 1019.1 Q 625.0 1022.0 636.7 1030.7 M 613.3 1010.3 Q 630.8 1015.4 642.5 1024.2 M 579.8 1001.1 L 581.3 999.4 L 616.3 1005.2 L 651.3 1009.6" fill="none" stroke="#161616" stroke-width="0.8" />
<path d="M 565.2 995.0 L 579.8 999.4 L 616.3 1006.4 L 654.2 1011.3" fill="none" stroke="#161616" stroke-width="1.6" />
<path d="M 616.3 1002.3 L 617.7 996.5 L 611.1 995.7 M 617.7 1003.8 L 623.5 1004.5 L 622.8 1008.1" fill="none" stroke="#161616" stroke-width="0.9" />
<path d="M 603.1 986.0 L 597.0 994.4 L 600.5 993.8 Q 599.5 1003.8 601.4 1008.9 L 605.3 1015.4 L 609.5 1012.8 Q 605.3 1008.1 604.6 993.3 L 607.5 993.0 Z" fill="#fba3fb" stroke="#000" stroke-width="1.1" />
<path d="M 655.9 1014.3 L 648.0 1013.4 L 649.8 1017.2 L 640.3 1021.3 L 642.5 1027.1 L 651.5 1021.8 L 652.7 1024.9 Z" fill="#fba3fb" stroke="#000" stroke-width="1.1" />
<path d="M 586.3 1036.8 L 596.9 1040.4 L 583.8 1056.0 L 587.0 1059.4 L 568.0 1065.5 L 565.8 1051.8 L 570.6 1054.0 Z" fill="#fba3fb" stroke="#222" stroke-width="0.7" />
<path d="M 596.9 1040.4 L 583.8 1056.0 L 587.0 1059.4 L 568.0 1065.5" fill="none" stroke="#000" stroke-width="2.2" />
</g>
<text x="745.3" y="1081.6" text-anchor="end" font-family="Liberation Sans, sans-serif" font-size="8.1" fill="#1a1a1a" stroke="#1a1a1a" stroke-width="0.3" style="-webkit-font-smoothing:antialiased;text-rendering:geometricPrecision">IN73AV106</text>
</svg>
<!--/SVG-->
<div class="abs wm">carmanualsonline.info</div>
</div>
</body>
</html>
